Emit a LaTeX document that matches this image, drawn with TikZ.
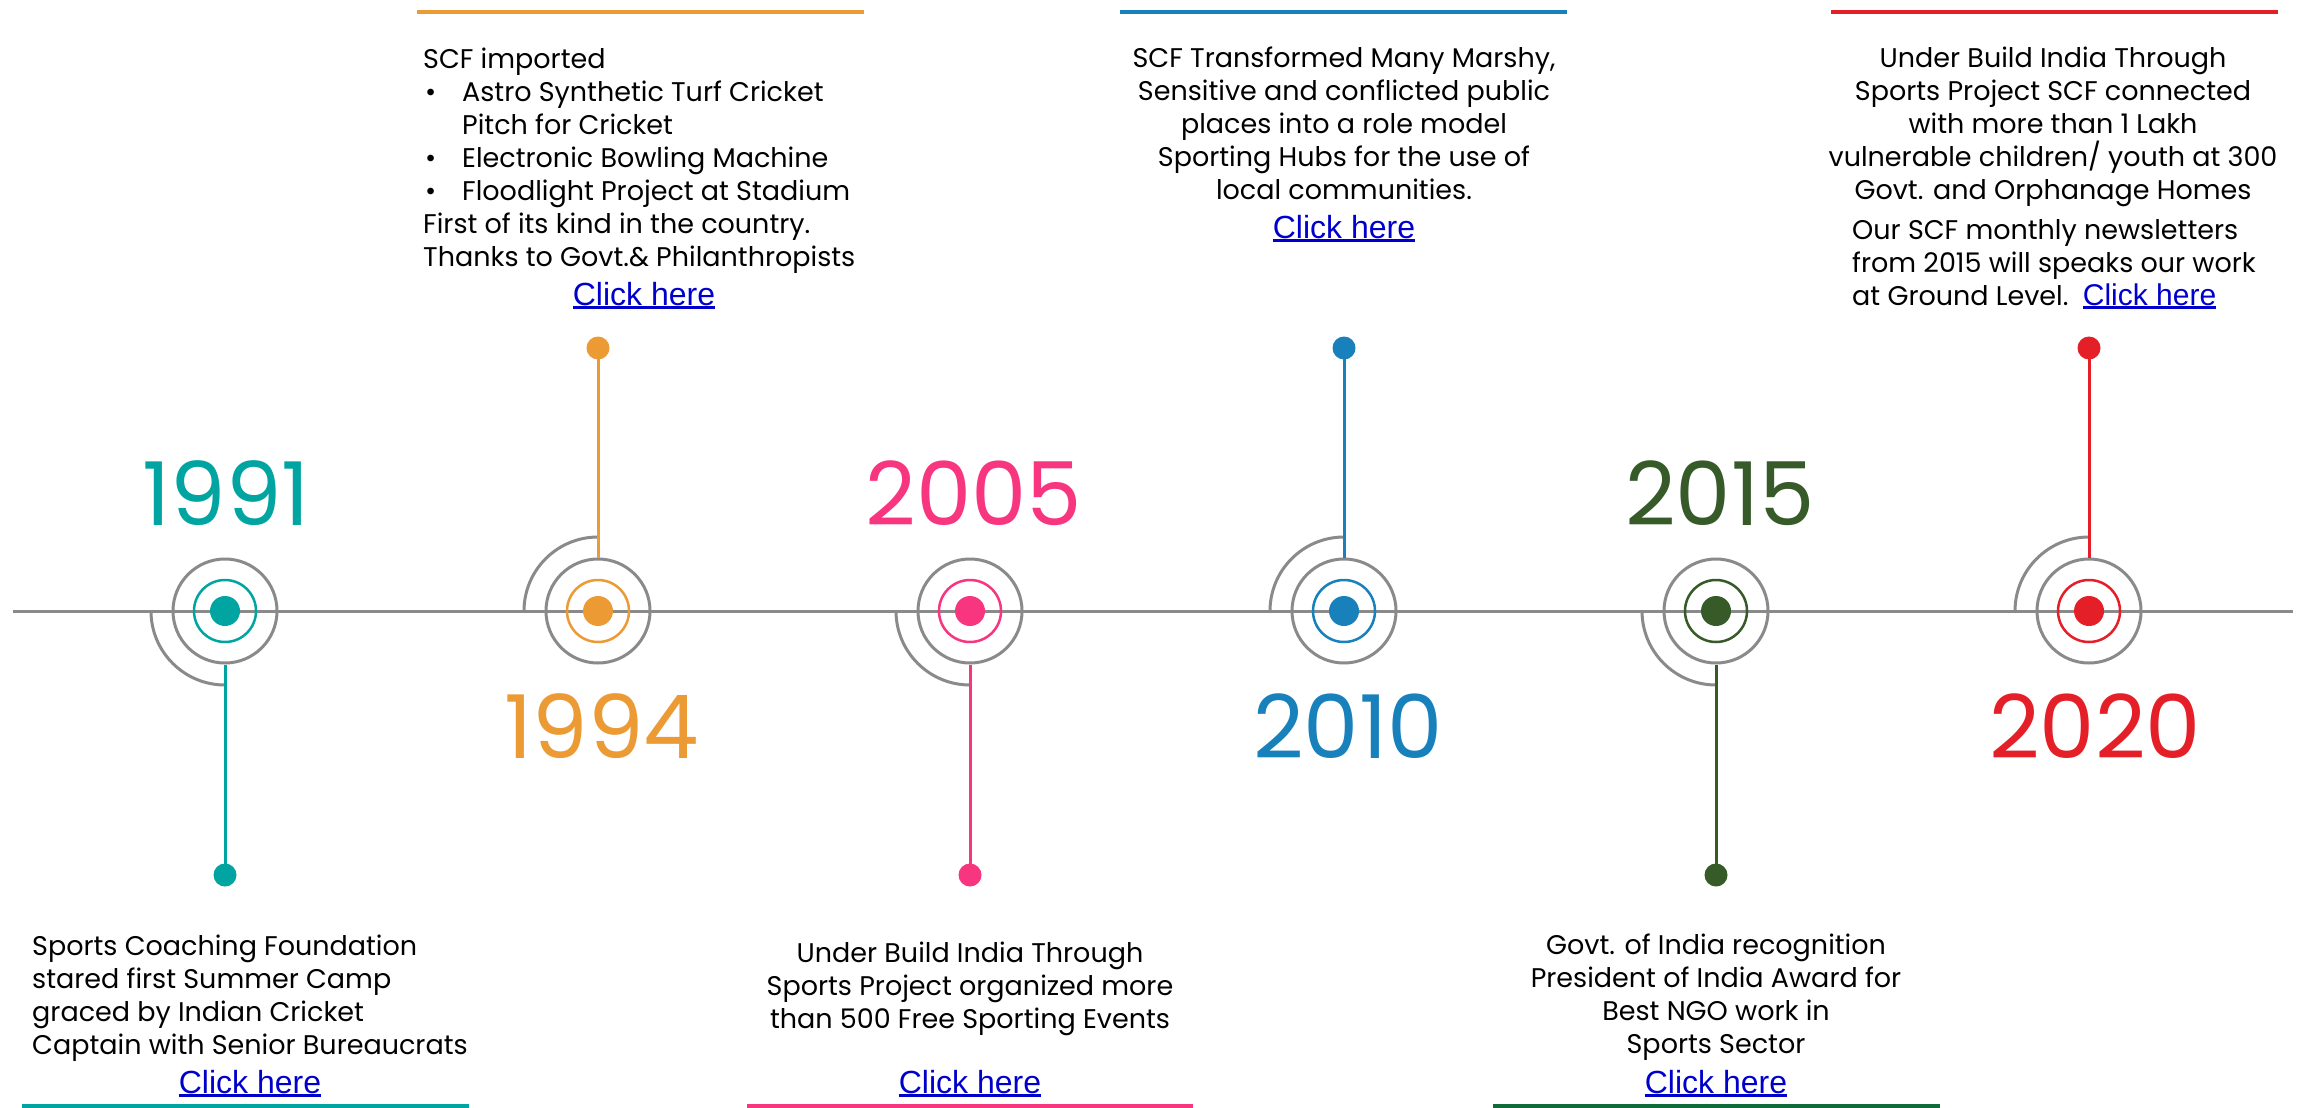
\documentclass[tikz,border=0pt]{standalone}
\usepackage{fontspec}
\setmainfont{Poppins}
\newfontfamily\linkfont{Liberation Sans}
\definecolor{cteal}{HTML}{00A4A0}
\definecolor{corange}{HTML}{EC9A34}
\definecolor{cpink}{HTML}{F8357F}
\definecolor{cblue}{HTML}{1880BB}
\definecolor{cgreen}{HTML}{365A28}
\definecolor{cgreenbar}{HTML}{0F6B3A}
\definecolor{cred}{HTML}{E41F28}
\definecolor{cgray}{HTML}{8A8A8A}
\definecolor{linkblue}{HTML}{0000CC}
\newcommand\clickhere{{\linkfont\color{linkblue}\setbox0\hbox{Click here}\rlap{\rule[-3.6pt]{\wd0}{2.4pt}}\box0}}
\tikzset{
  gline/.style={draw=cgray, line width=3pt},
  outerring/.style={circle, draw=cgray, line width=3pt, minimum size=104pt, inner sep=0pt},
  innerring/.style={circle, draw=#1, line width=2.5pt, minimum size=62pt, inner sep=0pt},
  coredot/.style={circle, fill=#1, minimum size=30pt, inner sep=0pt},
  enddot/.style={circle, fill=#1, minimum size=23pt, inner sep=0pt},
  stemline/.style={draw=#1, line width=3pt},
  colorbar/.style={draw=#1, line width=4.5pt},
  yearlabel/.style={text=#1, font=\fontsize{88}{88}\selectfont, inner sep=0pt},
  bodytext/.style={font=\fontsize{27}{33}\selectfont, inner sep=0pt, text=black},
  linktext/.style={inner sep=0pt, font=\linkfont\fontsize{32}{38}\selectfont, text=linkblue},
}
\begin{document}
\begin{tikzpicture}[x=1pt,y=1pt]
\useasboundingbox (0,0) rectangle (2307,-1108);
\fill[white] (0,0) rectangle (2307,-1108);

% timeline
\coordinate (tlA) at (13,-611);
\coordinate (tlB) at (2293,-611);
\draw[gline] (tlA) -- (tlB);

% ---------- milestones ----------
% 1991 (down)
\node[outerring] (o1) at (225,-611) {};
\node[innerring=cteal] (i1) at (o1.center) {};
\node[coredot=cteal] (c1) at (o1.center) {};
\node[enddot=cteal] (d1) at (225,-875) {};
\draw[gline] (o1.center) ++(-74,0) arc[start angle=180,end angle=270,radius=74];
\draw[stemline=cteal] (o1.south) -- (d1.center);

% 1994 (up)
\node[outerring] (o2) at (598,-611) {};
\node[innerring=corange] (i2) at (o2.center) {};
\node[coredot=corange] (c2) at (o2.center) {};
\node[enddot=corange] (d2) at (598,-348) {};
\draw[gline] (o2.center) ++(-74,0) arc[start angle=180,end angle=90,radius=74];
\draw[stemline=corange] (o2.north) -- (d2.center);

% 2005 (down)
\node[outerring] (o3) at (970,-611) {};
\node[innerring=cpink] (i3) at (o3.center) {};
\node[coredot=cpink] (c3) at (o3.center) {};
\node[enddot=cpink] (d3) at (970,-875) {};
\draw[gline] (o3.center) ++(-74,0) arc[start angle=180,end angle=270,radius=74];
\draw[stemline=cpink] (o3.south) -- (d3.center);

% 2010 (up)
\node[outerring] (o4) at (1344,-611) {};
\node[innerring=cblue] (i4) at (o4.center) {};
\node[coredot=cblue] (c4) at (o4.center) {};
\node[enddot=cblue] (d4) at (1344,-348) {};
\draw[gline] (o4.center) ++(-74,0) arc[start angle=180,end angle=90,radius=74];
\draw[stemline=cblue] (o4.north) -- (d4.center);

% 2015 (down)
\node[outerring] (o5) at (1716,-611) {};
\node[innerring=cgreen] (i5) at (o5.center) {};
\node[coredot=cgreen] (c5) at (o5.center) {};
\node[enddot=cgreen] (d5) at (1716,-875) {};
\draw[gline] (o5.center) ++(-74,0) arc[start angle=180,end angle=270,radius=74];
\draw[stemline=cgreen] (o5.south) -- (d5.center);

% 2020 (up)
\node[outerring] (o6) at (2089,-611) {};
\node[innerring=cred] (i6) at (o6.center) {};
\node[coredot=cred] (c6) at (o6.center) {};
\node[enddot=cred] (d6) at (2089,-348) {};
\draw[gline] (o6.center) ++(-74,0) arc[start angle=180,end angle=90,radius=74];
\draw[stemline=cred] (o6.north) -- (d6.center);

% ---------- years ----------
\node[yearlabel=cteal]   (y1) at (226,-493)  {1991};
\node[yearlabel=corange] (y2) at (602,-726)  {1994};
\node[yearlabel=cpink]   (y3) at (974,-493)  {2005};
\node[yearlabel=cblue]   (y4) at (1348,-726) {2010};
\node[yearlabel=cgreen]  (y5) at (1720,-493) {2015};
\node[yearlabel=cred]    (y6) at (2095,-726) {2020};

% ---------- colour bars ----------
\draw[colorbar=cteal]     (22,-1106)  -- (469,-1106);
\draw[colorbar=corange]   (417,-12)   -- (864,-12);
\draw[colorbar=cpink]     (747,-1106) -- (1193,-1106);
\draw[colorbar=cblue]     (1120,-12)  -- (1567,-12);
\draw[colorbar=cgreenbar] (1493,-1106) -- (1940,-1106);
\draw[colorbar=cred]      (1831,-12)  -- (2278,-12);

% ---------- texts ----------
\node[bodytext, align=left, anchor=north west] (t1) at (32,-935)
  {Sports Coaching Foundation\\stared first Summer Camp\\graced by Indian Cricket\\Captain with Senior Bureaucrats};
\node[linktext, anchor=base] (k1) at (250,-1093) {\clickhere};

\node[bodytext, align=left, anchor=north west] (t2) at (423,-48)
  {SCF imported\\
   \makebox[39pt][l]{\hspace*{2pt}•}Astro Synthetic Turf Cricket\\
   \hspace*{39pt}Pitch for Cricket\\
   \makebox[39pt][l]{\hspace*{2pt}•}Electronic Bowling Machine\\
   \makebox[39pt][l]{\hspace*{2pt}•}Floodlight Project at Stadium\\
   First of its kind in the country.\\
   Thanks to Govt.\& Philanthropists};
\node[linktext, anchor=base] (k2) at (644,-305) {\clickhere};

\node[bodytext, align=center, anchor=north] (t3) at (970,-942)
  {Under Build India Through\\Sports Project organized more\\than 500 Free Sporting Events};
\node[linktext, anchor=base] (k3) at (970,-1093) {\clickhere};

\node[bodytext, align=center, anchor=north] (t4) at (1344,-47)
  {SCF Transformed Many Marshy,\\Sensitive and conflicted public\\places into a role model\\Sporting Hubs for the use of\\local communities.};
\node[linktext, anchor=base] (k4) at (1344,-238) {\clickhere};

\node[bodytext, align=center, anchor=north] (t5) at (1716,-934)
  {Govt. of India recognition\\President of India Award for\\Best NGO work in\\Sports Sector};
\node[linktext, anchor=base] (k5) at (1716,-1093) {\clickhere};

\node[bodytext, align=center, anchor=north] (t6) at (2053,-47)
  {Under Build India Through\\Sports Project SCF connected\\with more than 1 Lakh\\vulnerable children/ youth at 300\\Govt. and Orphanage Homes};
\node[bodytext, align=left, anchor=north west] (t7) at (1852,-219)
  {Our SCF monthly newsletters\\from 2015 will speaks our work\\at Ground Level.\ \ {\fontsize{30}{33}\selectfont\clickhere}};
\end{tikzpicture}
\end{document}
